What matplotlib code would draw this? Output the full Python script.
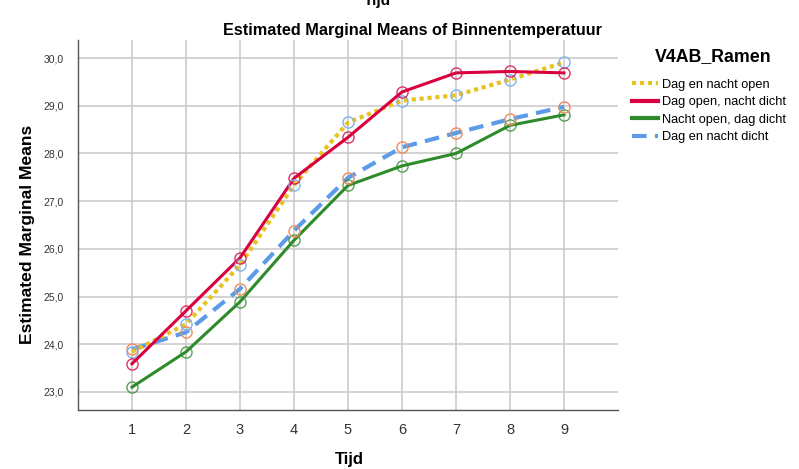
import matplotlib
matplotlib.use("Agg")
import matplotlib.pyplot as plt
from matplotlib.ticker import FuncFormatter
from matplotlib.lines import Line2D

plt.rcParams['font.family'] = ['Liberation Sans', 'DejaVu Sans']

tijd = [1, 2, 3, 4, 5, 6, 7, 8, 9]
dag_en_nacht_open = [23.84, 24.42, 25.66, 27.34, 28.65, 29.11, 29.22, 29.55, 29.91]
dag_open_nacht_dicht = [23.59, 24.70, 25.81, 27.48, 28.34, 29.29, 29.69, 29.72, 29.69]
nacht_open_dag_dicht = [23.10, 23.84, 24.89, 26.18, 27.33, 27.74, 28.00, 28.59, 28.81]
dag_en_nacht_dicht = [23.89, 24.25, 25.16, 26.38, 27.49, 28.13, 28.43, 28.72, 28.98]
series_names = ["Dag en nacht open", "Dag open, nacht dicht",
                "Nacht open, dag dicht", "Dag en nacht dicht"]
yticks = [23.0, 24.0, 25.0, 26.0, 27.0, 28.0, 29.0, 30.0]

fig = plt.figure(figsize=(7.99, 4.69), dpi=100)
ax = fig.add_axes([78/799, 1 - 410/469, 540/799, 370/469])

yellow = '#E8C21F'
red = '#D9003F'
green = '#2E8B2A'
blue = '#5B9BE8'
mk_blue = '#7FB3EE'
mk_orange = '#F08A5A'

ax.plot(tijd, nacht_open_dag_dicht, color=green, lw=2.2, zorder=3)
ax.plot(tijd, dag_en_nacht_dicht, color=blue, lw=3, ls=(0, (3.5, 2)), zorder=3)
ax.plot(tijd, dag_en_nacht_open, color=yellow, lw=3, ls=(0, (1, 0.9)), zorder=4)
ax.plot(tijd, dag_open_nacht_dicht, color=red, lw=2.2, zorder=5)

ms = 8
ax.plot(tijd, nacht_open_dag_dicht, ls='none', marker='o', ms=ms, mfc='none', mec=green, mew=1.0, alpha=0.8, zorder=6)
ax.plot(tijd, dag_en_nacht_dicht, ls='none', marker='o', ms=ms, mfc='none', mec=mk_orange, mew=1.0, zorder=6)
ax.plot(tijd, dag_en_nacht_open, ls='none', marker='o', ms=ms, mfc='none', mec=mk_blue, mew=1.0, zorder=6)
ax.plot(tijd, dag_open_nacht_dicht, ls='none', marker='o', ms=ms, mfc='none', mec=red, mew=1.0, alpha=0.8, zorder=7)

ax.set_xlim(0, 10)
ax.set_ylim(22.62, 30.38)
ax.set_xticks(tijd)
ax.set_yticks(yticks)
ax.yaxis.set_major_formatter(FuncFormatter(lambda v, p: f"{v:.1f}".replace('.', ',')))
ax.tick_params(axis='both', length=0, colors='#333333')
ax.tick_params(axis='y', labelsize=7.5, pad=10)
ax.tick_params(axis='x', labelsize=10.5, pad=9)
ax.grid(True, color='#CCCCCC', lw=1.2, zorder=0)
ax.set_axisbelow(True)
for s in ['top', 'right']:
    ax.spines[s].set_visible(False)
for s in ['left', 'bottom']:
    ax.spines[s].set_color('#555555')
    ax.spines[s].set_linewidth(1.0)

fig.text(28/799, 1 - 234/469, "Estimated Marginal Means", rotation=90,
         ha='center', va='center', fontsize=12.6, fontweight='bold')
fig.text(349/799, 1 - 459/469, "Tijd", ha='center', va='center',
         fontsize=12, fontweight='bold')

fig.text(412/799, 1 - 30/469, "Estimated Marginal Means of Binnentemperatuur",
         ha='center', va='center', fontsize=11.7, fontweight='bold')
fig.text(377/799, 1 - 4.5/469, "Tijd", ha='center', va='baseline',
         fontsize=11, fontweight='bold')

handles = [
    Line2D([], [], color=yellow, lw=3, ls=(0, (1, 0.9))),
    Line2D([], [], color=red, lw=3),
    Line2D([], [], color=green, lw=3),
    Line2D([], [], color=blue, lw=3, ls=(0, (3.5, 2))),
]
leg = fig.legend(handles, series_names, loc='upper left',
                 bbox_to_anchor=(632/799, 1 - 48/469), frameon=False,
                 title="V4AB_Ramen", title_fontproperties={'weight': 'bold', 'size': 12.8},
                 fontsize=9.2, handlelength=2.0, handletextpad=0.35,
                 labelspacing=0.42, borderpad=0, borderaxespad=0)
leg._legend_box.align = "left"
leg._legend_box.sep = 10
leg.get_title().set_position((23, 0))

fig.savefig("out.png", dpi=100)
